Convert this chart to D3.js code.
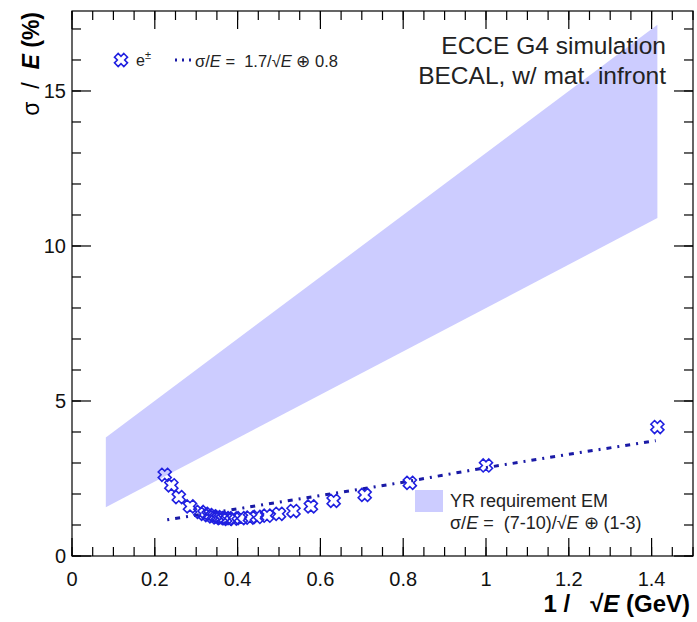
<!DOCTYPE html>
<html>
<head>
<meta charset="utf-8">
<script src="https://cdn.jsdelivr.net/npm/d3@7"></script>
<style>
  body { margin: 0; background: #fff; }
  text { font-family: "Liberation Sans", Arial, sans-serif; white-space: pre; }
</style>
</head>
<body>
<div id="chart"></div>
<script>
// DATA //
// measured resolution points, x = 1/sqrt(E), y = sigma/E in %
let invSqrtE = [0.224, 0.24, 0.258, 0.285, 0.31, 0.32, 0.33, 0.34, 0.35, 0.36, 0.37, 0.378, 0.39, 0.408, 0.43, 0.447, 0.471, 0.5, 0.535, 0.577, 0.632, 0.707, 0.816, 1.0, 1.414];
let resolution = [2.62, 2.28, 1.9, 1.6, 1.42, 1.36, 1.32, 1.28, 1.25, 1.22, 1.22, 1.2, 1.21, 1.22, 1.24, 1.26, 1.3, 1.36, 1.45, 1.6, 1.78, 1.97, 2.36, 2.92, 4.16];

// fit curve
let fitX = [0.23, 0.4, 0.6, 0.8, 1.0, 1.2, 1.41];
let fitY = [1.17, 1.52, 1.95, 2.38, 2.85, 3.28, 3.72];

// YR requirement band (lower / upper edge)
let bandX = [0.0816, 1.414];
let bandLow = [1.57, 10.9];
let bandHigh = [3.82, 17.14];

let xTicks = [0, 0.2, 0.4, 0.6, 0.8, 1, 1.2, 1.4];
let yTicks = [0, 5, 10, 15];

// DIMENSIONS //
let W = 697, H = 622;
let margin = {top: 11, right: 4, bottom: 66, left: 72};
let width = W - margin.left - margin.right,
    height = H - margin.top - margin.bottom;

let svg = d3.select("#chart").append("svg")
    .attr("width", W).attr("height", H);
let g = svg.append("g")
    .attr("transform", "translate(" + margin.left + "," + margin.top + ")");

let x = d3.scaleLinear().domain([0, 1.5]).range([0, width]);
let y = d3.scaleLinear().domain([0, 17.58]).range([height, 0]);

// BAND //
let bandData = bandX.map((v, i) => ({x: v, lo: bandLow[i], hi: bandHigh[i]}));
g.append("path")
    .datum(bandData)
    .attr("fill", "#ccccff")
    .attr("d", d3.area().x(d => x(d.x)).y0(d => y(d.lo)).y1(d => y(d.hi)));

// FIT LINE //
let fitData = fitX.map((v, i) => [v, fitY[i]]);
g.append("path")
    .datum(fitData)
    .attr("fill", "none")
    .attr("stroke", "#1a1aa6")
    .attr("stroke-width", 3)
    .attr("stroke-dasharray", "2,6,5,6")
    .attr("d", d3.line().x(d => x(d[0])).y(d => y(d[1])));

// MARKERS //
function crossPath(r, a) {
    let pts = [[-a,-r],[a,-r],[a,-a],[r,-a],[r,a],[a,a],[a,r],[-a,r],[-a,a],[-r,a],[-r,-a],[-a,-a]];
    let c = Math.SQRT1_2;
    return "M" + pts.map(p => [(p[0] - p[1]) * c, (p[0] + p[1]) * c].map(v => v.toFixed(2)).join(",")).join("L") + "Z";
}
let marker = crossPath(6.6, 2.6);
g.selectAll(".pt")
    .data(invSqrtE.map((v, i) => [v, resolution[i]]))
    .enter().append("path")
    .attr("class", "pt")
    .attr("d", marker)
    .attr("transform", d => "translate(" + x(d[0]) + "," + y(d[1]) + ")")
    .attr("fill", "none")
    .attr("stroke", "#2020e0")
    .attr("stroke-width", 1.6);

// AXES / FRAME //
g.append("rect")
    .attr("width", width).attr("height", height)
    .attr("fill", "none").attr("stroke", "#000").attr("stroke-width", 1.2);

let xMinor = d3.range(0, 1.5001, 0.05);
let yMinor = d3.range(0, 17.5, 1);

function xTickLines(vals, len) {
    // bottom and top
    g.append("g").selectAll("line").data(vals).enter().append("line")
        .attr("x1", d => x(d)).attr("x2", d => x(d))
        .attr("y1", height).attr("y2", height - len)
        .attr("stroke", "#000").attr("stroke-width", 1.2);
    g.append("g").selectAll("line").data(vals).enter().append("line")
        .attr("x1", d => x(d)).attr("x2", d => x(d))
        .attr("y1", 0).attr("y2", len)
        .attr("stroke", "#000").attr("stroke-width", 1.2);
}
function yTickLines(vals, len) {
    g.append("g").selectAll("line").data(vals).enter().append("line")
        .attr("y1", d => y(d)).attr("y2", d => y(d))
        .attr("x1", 0).attr("x2", len)
        .attr("stroke", "#000").attr("stroke-width", 1.2);
    g.append("g").selectAll("line").data(vals).enter().append("line")
        .attr("y1", d => y(d)).attr("y2", d => y(d))
        .attr("x1", width).attr("x2", width - len)
        .attr("stroke", "#000").attr("stroke-width", 1.2);
}
xTickLines(xMinor, 9);
xTickLines(xTicks, 18);
yTickLines(yMinor, 9);
yTickLines(yTicks, 19);

// tick labels
g.append("g").selectAll("text").data(xTicks).enter().append("text")
    .attr("x", d => x(d)).attr("y", height + 30)
    .attr("text-anchor", "middle")
    .attr("font-size", 20)
    .attr("fill", "#111")
    .text(d => d3.format("~g")(d));
g.append("g").selectAll("text").data(yTicks).enter().append("text")
    .attr("x", -6).attr("y", d => y(d) + 7)
    .attr("text-anchor", "end")
    .attr("font-size", 20)
    .attr("fill", "#111")
    .text(d => d);

// axis titles
let xt = svg.append("text")
    .attr("x", 690).attr("y", 612)
    .attr("text-anchor", "end")
    .attr("font-size", 24).attr("font-weight", "bold");
xt.append("tspan").text("1 /   √");
xt.append("tspan").attr("font-style", "italic").text("E");
xt.append("tspan").text(" (GeV)");

let yt = svg.append("text")
    .attr("transform", "translate(39,12) rotate(-90)")
    .attr("text-anchor", "end")
    .attr("font-size", 23).attr("font-weight", "bold");
yt.append("tspan").attr("font-weight", "normal").text("σ  /  ");
yt.append("tspan").attr("font-style", "italic").text("E");
yt.append("tspan").text(" (%)");

// top-right labels
svg.append("text").attr("x", 666).attr("y", 54).attr("text-anchor", "end")
    .attr("font-size", 24.5).attr("fill", "#222").text("ECCE G4 simulation");
svg.append("text").attr("x", 666).attr("y", 84).attr("text-anchor", "end")
    .attr("font-size", 24.5).attr("fill", "#222").text("BECAL, w/ mat. infront");

// LEGEND top-left //
svg.append("path").attr("d", marker)
    .attr("transform", "translate(121,60)")
    .attr("fill", "none").attr("stroke", "#2020e0").attr("stroke-width", 1.6);
svg.append("text").attr("x", 136).attr("y", 66).attr("font-size", 16).attr("fill", "#222")
    .html('e<tspan dy="-7" font-size="11">±</tspan>');
svg.append("line").attr("x1", 175).attr("x2", 193).attr("y1", 60).attr("y2", 60)
    .attr("stroke", "#1a1aa6").attr("stroke-width", 3).attr("stroke-dasharray", "2,5");
let l1 = svg.append("text").attr("x", 195).attr("y", 67).attr("font-size", 16.5).attr("fill", "#222");
l1.append("tspan").text("σ/");
l1.append("tspan").attr("font-style", "italic").text("E");
l1.append("tspan").text(" =  1.7/√");
l1.append("tspan").attr("font-style", "italic").text("E");
l1.append("tspan").text(" ⊕ 0.8");

// LEGEND bottom //
svg.append("rect").attr("x", 415).attr("y", 490).attr("width", 28).attr("height", 22)
    .attr("fill", "#ccccff");
svg.append("text").attr("x", 450).attr("y", 507).attr("font-size", 18).attr("fill", "#222")
    .text("YR requirement EM");
let l2 = svg.append("text").attr("x", 450).attr("y", 529).attr("font-size", 18).attr("fill", "#222");
l2.append("tspan").text("σ/");
l2.append("tspan").attr("font-style", "italic").text("E");
l2.append("tspan").text(" =  (7-10)/√");
l2.append("tspan").attr("font-style", "italic").text("E");
l2.append("tspan").text(" ⊕ (1-3)");
</script>
</body>
</html>
